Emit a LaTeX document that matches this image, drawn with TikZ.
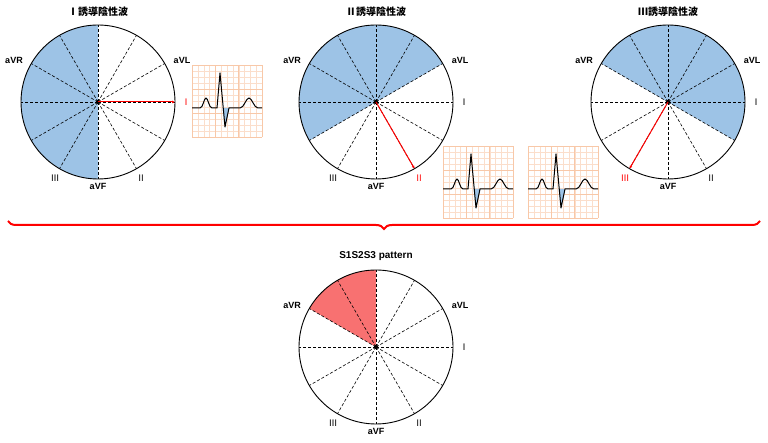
\documentclass[tikz,border=0pt]{standalone}
\usepackage{fontspec}
\setmainfont{Liberation Sans}
\newfontfamily\cjk{Noto Sans CJK JP}
\usetikzlibrary{decorations.pathreplacing,calc,arrows.meta}
\definecolor{negblue}{HTML}{9DC3E6}
\definecolor{negred}{HTML}{F87171}
\definecolor{gridor}{HTML}{F8C8A8}
\tikzset{
  lbl/.style={font=\bfseries\fontsize{9}{10}\selectfont, inner sep=0pt},
  rom/.style={font=\cjk\fontsize{9}{10}\selectfont, inner sep=0pt},
  ttl/.style={font=\cjk\bfseries\fontsize{10}{11}\selectfont, inner sep=0pt},
  spoke/.style={densely dashed, line width=0.6pt},
  rim/.style={line width=0.9pt},
  lead/.style={red, line width=1pt, -{Latex[length=3pt,width=3pt]}},
}
\newcommand\mywheel[6]{% name, cx, cy, start, end, color
  \begin{scope}[shift={(#2,#3)}]
    \fill[#6] (0,0) -- (#4:77) arc[start angle=#4, end angle=#5, radius=77] -- cycle;
    \foreach \a in {0,30,...,330} \draw[spoke] (0,0) -- (\a:77);
    \draw[rim] (0,0) circle[radius=77];
    \fill (0,0) circle[radius=2.2];
    \coordinate (#1) at (0,0);
  \end{scope}}
\newcommand\mylabels[1]{%
  \node[lbl] (#1-avr) at ($(#1)+(-84,42)$) {aVR};
  \node[lbl] (#1-avl) at ($(#1)+(84,42)$) {aVL};
  \node[lbl] (#1-avf) at ($(#1)+(0,-84)$) {aVF};}
\newcommand\myecg[3]{% name, x0 (left), y0 (bottom)
  \begin{scope}[shift={(#2,#3)}]
    \foreach \i in {0,...,12}{
      \draw[gridor!60, line width=0.3pt] (\i*70/12,0) -- (\i*70/12,72);
      \draw[gridor!60, line width=0.3pt] (0,\i*6) -- (70,\i*6);}
    \foreach \i in {0,...,3}{
      \draw[gridor, line width=0.5pt] (\i*70/3,0) -- (\i*70/3,72);
      \draw[gridor, line width=0.5pt] (0,\i*24) -- (70,\i*24);}
    \fill[negblue] (30.6,29) -- (33,10) -- (37,29) -- cycle;
    \draw[line width=1pt, line join=round] (0,29) -- (8,29) .. controls (11,29) and (12,39) .. (14,39) .. controls (16,39) and (17,29) .. (20,29) -- (25,29) -- (28,64) -- (33,10) -- (37,29) -- (48,29) .. controls (52,29) and (54,39) .. (57,39) .. controls (60,39) and (62,29) .. (66,29) -- (70,29);
    \node[inner sep=0pt] (#1) at (35,36) {};
  \end{scope}}
\begin{document}
\begin{tikzpicture}[x=1pt,y=1pt]
\useasboundingbox (0,0) rectangle (768,443);
% wheel 1
\mywheel{c1}{98}{341}{90}{270}{negblue}
\mylabels{c1}
\coordinate (p1) at ($(c1)+(0:77)$);
\draw[lead] (c1) -- (p1);
\node[rom, red] (l1-i) at ($(c1)+(88,0)$) {Ⅰ};
\node[rom] (l1-ii) at ($(c1)+(43,-76)$) {Ⅱ};
\node[rom] (l1-iii) at ($(c1)+(-43,-76)$) {Ⅲ};
\node[ttl] (t1) at (98,431) {Ⅰ誘導陰性波};
\myecg{e1}{192}{306}
% wheel 2
\mywheel{c2}{376}{341}{30}{210}{negblue}
\mylabels{c2}
\coordinate (p2) at ($(c2)+(-60:77)$);
\draw[lead] (c2) -- (p2);
\node[rom] (l2-i) at ($(c2)+(88,0)$) {Ⅰ};
\node[rom, red] (l2-ii) at ($(c2)+(43,-76)$) {Ⅱ};
\node[rom] (l2-iii) at ($(c2)+(-43,-76)$) {Ⅲ};
\node[ttl] (t2) at (376,431) {Ⅱ誘導陰性波};
\myecg{e2}{443}{225}
% wheel 3
\mywheel{c3}{668}{341}{-30}{150}{negblue}
\mylabels{c3}
\coordinate (p3) at ($(c3)+(-120:77)$);
\draw[lead] (c3) -- (p3);
\node[rom] (l3-i) at ($(c3)+(88,0)$) {Ⅰ};
\node[rom] (l3-ii) at ($(c3)+(43,-76)$) {Ⅱ};
\node[rom, red] (l3-iii) at ($(c3)+(-43,-76)$) {Ⅲ};
\node[ttl] (t3) at (668,431) {Ⅲ誘導陰性波};
\myecg{e3}{528}{225}
% brace
\coordinate (bl) at (8,222);
\coordinate (br) at (760,222);
\draw[red, line width=2pt, decorate, decoration={brace, mirror, amplitude=8pt}] (bl) -- (br);
% wheel 4
\mywheel{c4}{376}{96}{90}{150}{negred}
\mylabels{c4}
\node[rom] (l4-i) at ($(c4)+(88,0)$) {Ⅰ};
\node[rom] (l4-ii) at ($(c4)+(43,-76)$) {Ⅱ};
\node[rom] (l4-iii) at ($(c4)+(-43,-76)$) {Ⅲ};
\node[lbl, font=\bfseries\fontsize{10}{11}\selectfont] (t4) at (376,187) {S1S2S3 pattern};
\end{tikzpicture}
\end{document}
